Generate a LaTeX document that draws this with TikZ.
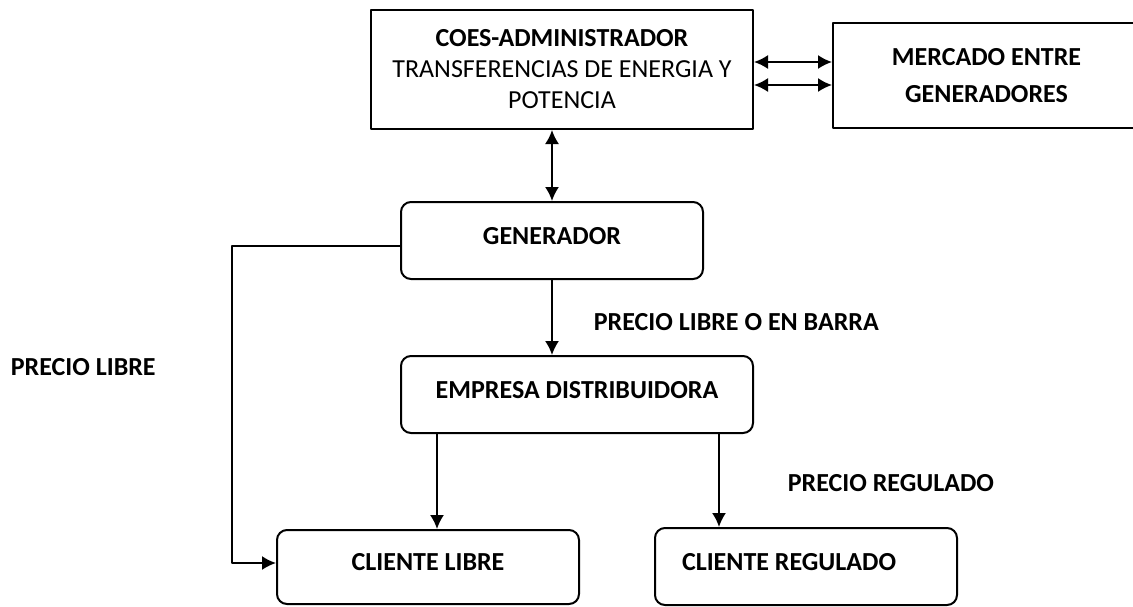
\documentclass[tikz,border=0pt]{standalone}
\usepackage{fontspec}
\setmainfont{Carlito}
\usetikzlibrary{arrows.meta}
\tikzset{
	caja/.style={draw, line width=2pt, inner sep=4pt},
	redonda/.style={draw, line width=2pt, rounded corners=10pt, text depth=10pt},
	etiqueta/.style={anchor=west, inner sep=0pt}
}
\begin{document}
\begin{tikzpicture}[x=1pt, y=-1pt, >={Latex[length=14pt,width=14pt]}, line width=1.8pt, line join=round, font=\fontsize{26}{31}\selectfont\bfseries]
	\useasboundingbox (0,0) rectangle (1133,606);
	% cajas
	\node[caja, minimum width=382pt, minimum height=119pt, align=center] (coes) at (562,69.5) {COES-ADMINISTRADOR\\ {\mdseries TRANSFERENCIAS DE ENERGIA Y}\\ {\mdseries POTENCIA}};
	\node[caja, minimum width=307pt, minimum height=105pt, align=center] (merc) at (986.5,75.5) {MERCADO ENTRE\\[6pt] GENERADORES};
	\node[redonda, minimum width=302pt, minimum height=77pt] (gen) at (552,240.5) {GENERADOR};
	\node[redonda, minimum width=352pt, minimum height=77pt] (emp) at (577,394.5) {EMPRESA DISTRIBUIDORA};
	\node[redonda, minimum width=302pt, minimum height=74pt] (libre) at (428,567) {CLIENTE LIBRE};
	\node[redonda, minimum width=302pt, minimum height=77pt, text width=248pt, inner xsep=27pt, align=flush left] (reg) at (806,566.5) {CLIENTE REGULADO};
	% flechas
	\draw[<->] (coes.east |- 0,62) -- (merc.west |- 0,62);
	\draw[<->] (coes.east |- 0,85) -- (merc.west |- 0,85);
	\draw[<->] (coes.south -| gen.north) -- (gen.north);
	\draw[->] (gen.south) -- (gen.south |- emp.north);
	\draw[->] (emp.south -| 437,0) -- (libre.north -| 437,0);
	\draw[->] (emp.south -| 719,0) -- (reg.north -| 719,0);
	\draw[->] (gen.west |- 0,246) -| (232,563) -- (libre.west |- 0,563);
	% precios
	\node[etiqueta] (pbarra) at (593,322) {PRECIO LIBRE O EN BARRA};
	\node[etiqueta] (plibre) at (10,367) {PRECIO LIBRE};
	\node[etiqueta] (preg) at (787,483) {PRECIO REGULADO};
\end{tikzpicture}
\end{document}
